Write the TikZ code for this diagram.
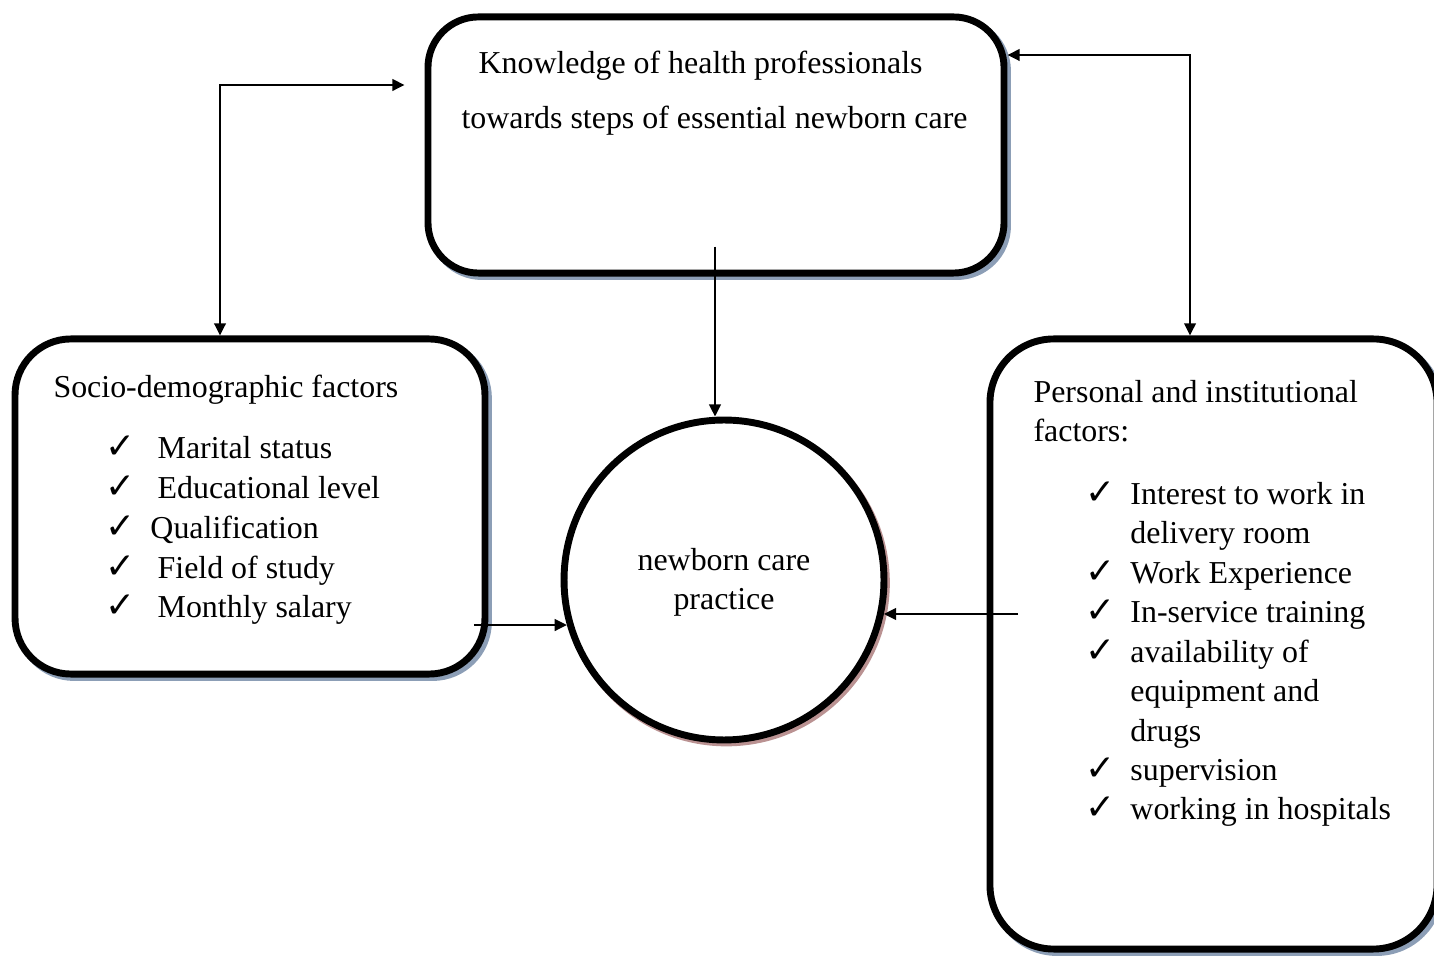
\documentclass[tikz,border=0pt]{standalone}
\usepackage{fontspec}
\setmainfont{Liberation Serif}
\newfontfamily\symfont{DejaVu Sans}
\usetikzlibrary{arrows.meta, positioning, calc}
\definecolor{boxshadow}{RGB}{140,158,182}
\definecolor{ringshadow}{RGB}{186,146,146}

% tick mark followed by a gap of the given width
\newcommand{\chk}[1]{\makebox[#1][l]{\symfont\fontsize{13.5}{13.5}\selectfont ✓}}

\begin{document}
\begin{tikzpicture}[x=0.376pt, y=-0.376pt,
    factorbox/.style={rectangle, draw=black, fill=white, line width=2.6pt, rounded corners=19pt, inner sep=0pt,
        preaction={draw=boxshadow, line width=2.6pt, transform canvas={shift={(1.3pt,-1.3pt)}}}},
    ring/.style={circle, draw=black, fill=white, line width=2.6pt, inner sep=0pt, minimum size=120.3pt,
        preaction={draw=ringshadow, line width=2.6pt, transform canvas={shift={(0.9pt,-1.1pt)}}}},
    txt/.style={inner sep=0pt, align=left, font=\fontsize{12}{15}\selectfont},
    link/.style={line width=0.75pt},
    >={Triangle[length=4.6pt, width=4.4pt]}
]
\useasboundingbox (0,0) rectangle (1434,957);

% boxes
\node[factorbox, minimum width=216.6pt, minimum height=96.3pt] (know) at (716,145) {};
\node[factorbox, minimum width=176.7pt, minimum height=126pt, rounded corners=21pt] (socio) at (250,506.5) {};
\node[factorbox, minimum width=168.1pt, minimum height=229.4pt, rounded corners=24pt] (pers) at (1213.5,644) {};
\node[ring] (practice) at (724,580) {};

% texts (base anchor sits on the last line)
\node[txt, anchor=base west, font=\fontsize{12}{20.7}\selectfont] (knowtext) at (461,129)
    {\hspace{6.4pt}Knowledge of health professionals\\towards steps of essential newborn care};
\node[txt, anchor=base west] (sociotitle) at (53,398) {Socio-demographic factors};
\node[txt, anchor=base west] (sociolist) at (105,618)
    {\chk{19.6pt}Marital status\\\chk{19.6pt}Educational level\\\chk{16.9pt}Qualification\\\chk{19.6pt}Field of study\\\chk{19.6pt}Monthly salary};
\node[txt, anchor=base west, font=\fontsize{12}{14.7}\selectfont] (perstitle) at (1033,442)
    {Personal and institutional\\factors:};
\node[txt, anchor=base west, font=\fontsize{12}{14.85}\selectfont] (perslist) at (1085,820)
    {\chk{16.9pt}Interest to work in\\\hspace{16.9pt}delivery room\\\chk{16.9pt}Work Experience\\\chk{16.9pt}In-service training\\\chk{16.9pt}availability of\\\hspace{16.9pt}equipment and\\\hspace{16.9pt}drugs\\\chk{16.9pt}supervision\\\chk{16.9pt}working in hospitals};
\node[txt, align=center, anchor=base] (practicetext) at (724,610) {newborn care\\practice};

% connectors
\coordinate (knowleft) at ($(know.west)+(-20,-60)$);
\coordinate (knowright) at ($(know.east)+(0,-90)$);
\coordinate (knowdown) at ($(know.south)+(-1,-30)$);
\coordinate (socioout) at ($(socio.east)+(-14.5,0)$);
\coordinate (persout) at ($(pers.west)+(31.5,0)$);
\draw[link, <->] (knowleft) -| ($(socio.north)+(-30,0)$);
\draw[link, <->] (knowright) -| ($(pers.north)+(-23.5,0)$);
\draw[link, ->] (knowdown) -- (knowdown |- practice.north);
\draw[link, ->] (practice.196 -| socioout) -- (practice.196);
\draw[link, ->] (practice.348 -| persout) -- (practice.348);
\end{tikzpicture}
\end{document}
